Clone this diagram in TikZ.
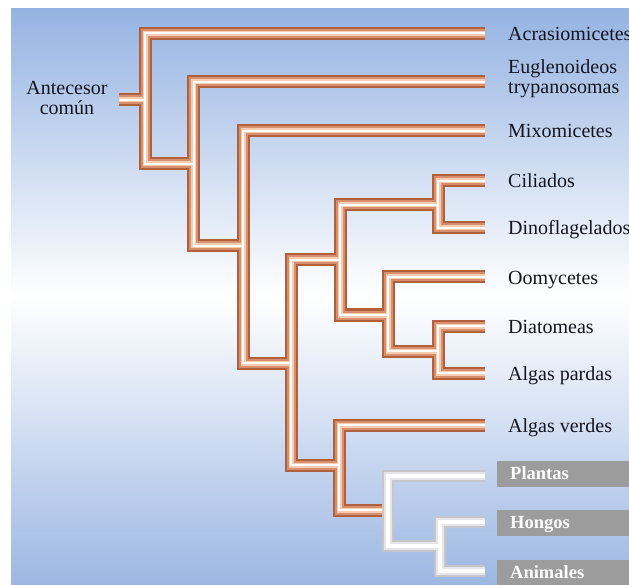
\documentclass[tikz,border=0pt]{standalone}
\usepackage{fontspec}
\setmainfont{Liberation Serif}
\definecolor{bgtop}{HTML}{95B3E2}
\definecolor{bgbot}{HTML}{9CB7E3}
\definecolor{tbA}{HTML}{B0603C}
\definecolor{tbB}{HTML}{D98F6C}
\definecolor{tbC}{HTML}{F6CDB2}
\definecolor{wtA}{HTML}{C6C6CA}
\definecolor{wtB}{HTML}{E6E6E8}
\definecolor{boxgray}{HTML}{9C9C9C}
\definecolor{txt}{HTML}{15151F}
\newcommand{\browntree}[1]{%
  \draw[#1] (root) -- (n1)
    (l1) -| (n1) |- (n2)
    (l2) -| (n2) |- (n3)
    (l3) -| (n3) |- (n4)
    (n5) -| (n4) |- (n9)
    (n6) -| (n5) |- (n7)
    (l4) -| (n6) |- (l5)
    (l6) -| (n7) |- (n8)
    (l7) -| (n8) |- (l8)
    (l9) -| (n9) |- (n10);}
\newcommand{\whitetree}[1]{%
  \draw[#1] (l10) -| (n10) |- (n11)
    (l11) -| (n11) |- (l12);}
\begin{document}
\begin{tikzpicture}[x=1pt,y=-1pt,
  lab/.style={anchor=base west,inner sep=0pt,text=txt,align=left,
    font=\fontsize{20}{20}\selectfont},
  gbox/.style={anchor=west,fill=boxgray,text=white,inner ysep=0pt,inner xsep=13pt,
    minimum height=26pt,text width=106pt,align=left,text height=12.5pt,text depth=0pt,
    font=\fontsize{18.5}{20}\selectfont\bfseries},
  tubeA/.style={line width=13pt,draw=tbA,line join=miter},
  tubeB/.style={line width=9pt,draw=tbB,line join=miter},
  tubeC/.style={line width=5pt,draw=tbC,line join=miter},
  tubeD/.style={line width=2pt,draw=white,line join=miter},
  wtubeA/.style={line width=12pt,draw=wtA,line join=miter},
  wtubeB/.style={line width=8pt,draw=wtB,line join=miter},
  wtubeC/.style={line width=4pt,draw=white,line join=miter}]
\useasboundingbox (0,0) rectangle (629,585);
\fill[white] (0,0) rectangle (629,585);
\shade[top color=bgtop,bottom color=white] (11,9) rectangle (629,297);
\shade[top color=white,bottom color=bgbot] (11,296.5) rectangle (629,585);
% leaf ends
\coordinate (l1) at (485,33.5);
\coordinate (l2) at (485,82);
\coordinate (l3) at (485,131);
\coordinate (l4) at (485,181);
\coordinate (l5) at (485,228);
\coordinate (l6) at (485,277);
\coordinate (l7) at (485,326);
\coordinate (l8) at (485,373);
\coordinate (l9) at (485,425);
\coordinate (l10) at (485,476);
\coordinate (l11) at (485,522);
\coordinate (l12) at (485,571);
% internal nodes (attachment points)
\coordinate (root) at (119,100);
\coordinate (n1) at (145,100);
\coordinate (n2) at (193.5,164);
\coordinate (n3) at (243,246);
\coordinate (n4) at (291,363);
\coordinate (n5) at (340,260);
\coordinate (n6) at (438,205);
\coordinate (n7) at (388,315);
\coordinate (n8) at (438,351);
\coordinate (n9) at (339,465);
\coordinate (n10) at (388,510);
\coordinate (n11) at (440,546);
% tubes
\browntree{tubeA}
\browntree{tubeB}
\browntree{tubeC}
\browntree{tubeD}
\whitetree{wtubeA}
\whitetree{wtubeB}
\whitetree{wtubeC}
% labels
\node[lab,align=center,anchor=base] (anc) at (67,115) {Antecesor\\común};
\node[lab] (t1) at (508,40.5) {Acrasiomicetes};
\node[lab] (t2) at (508,94) {Euglenoideos\\trypanosomas};
\node[lab] (t3) at (508,138) {Mixomicetes};
\node[lab] (t4) at (508,188) {Ciliados};
\node[lab] (t5) at (508,235) {Dinoflagelados};
\node[lab] (t6) at (508,284) {Oomycetes};
\node[lab] (t7) at (508,333) {Diatomeas};
\node[lab] (t8) at (508,380) {Algas pardas};
\node[lab] (t9) at (508,432) {Algas verdes};
\node[gbox] (t10) at (497,473.5) {Plantas};
\node[gbox] (t11) at (497,522.5) {Hongos};
\node[gbox] (t12) at (497,572.5) {Animales};
\end{tikzpicture}
\end{document}
